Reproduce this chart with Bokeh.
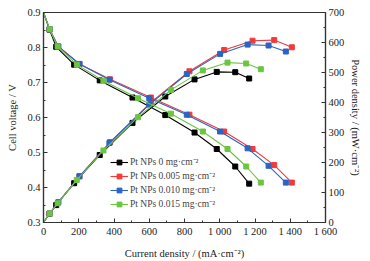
from bokeh.plotting import figure
from bokeh.models import Range1d, LinearAxis, FixedTicker, Legend, LegendItem
from bokeh.embed import file_html
from bokeh.resources import INLINE

# ---- data ----
i_0 = [0, 34, 72, 174, 319, 505, 691, 857, 983, 1088, 1167]
v_0 = [0.9, 0.851, 0.802, 0.751, 0.706, 0.657, 0.607, 0.557, 0.510, 0.460, 0.411]
p_0 = [0, 29, 58, 131, 225, 332, 420, 477, 502, 501, 480]

i_005 = [0, 35, 85, 204, 378, 609, 828, 1025, 1186, 1309, 1409]
v_005 = [0.9, 0.852, 0.803, 0.753, 0.709, 0.657, 0.608, 0.560, 0.510, 0.464, 0.414]
p_005 = [0, 30, 68, 154, 268, 400, 504, 575, 606, 608, 584]

i_010 = [0, 35, 82, 204, 374, 600, 813, 1002, 1158, 1277, 1375]
v_010 = [0.9, 0.852, 0.803, 0.753, 0.708, 0.655, 0.608, 0.560, 0.512, 0.462, 0.414]
p_010 = [0, 30, 66, 154, 265, 393, 495, 562, 593, 590, 570]

i_015 = [0, 35, 80, 189, 340, 536, 723, 904, 1044, 1150, 1233]
v_015 = [0.9, 0.852, 0.803, 0.751, 0.705, 0.655, 0.611, 0.560, 0.510, 0.460, 0.414]
p_015 = [0, 30, 64, 142, 240, 351, 442, 507, 533, 530, 511]

labels = ["Pt NPs 0 mg\u00b7cm\u207b\u00b2", "Pt NPs 0.005 mg\u00b7cm\u207b\u00b2",
          "Pt NPs 0.010 mg\u00b7cm\u207b\u00b2", "Pt NPs 0.015 mg\u00b7cm\u207b\u00b2"]
colors = ["#000000", "#f23a3a", "#2a64c4", "#6cc540"]

x_ticks = [0, 200, 400, 600, 800, 1000, 1200, 1400, 1600]
x_tick_labels = ["0", "200", "400", "600", "800", "1 000", "1 200", "1 400", "1 600"]
v_ticks = [0.3, 0.4, 0.5, 0.6, 0.7, 0.8, 0.9]
v_tick_labels = ["0.3", "0.4", "0.5", "0.6", "0.7", "0.8", "0.9"]
p_ticks = [0, 100, 200, 300, 400, 500, 600, 700]
p_tick_labels = ["0", "100", "200", "300", "400", "500", "600", "700"]

FONT = "Liberation Serif"
AX = "#333333"

p = figure(frame_width=282, frame_height=210, output_backend="svg", toolbar_location=None,
           x_range=Range1d(0, 1600), y_range=Range1d(0.3, 0.9),
           min_border_left=43, min_border_right=44, min_border_top=12, min_border_bottom=38)
p.extra_y_ranges = {"power": Range1d(0, 700)}
p.grid.visible = False
p.outline_line_color = AX
p.outline_line_width = 1.2
p.background_fill_color = "white"
p.border_fill_color = "white"

series = [(i_0, v_0, p_0), (i_005, v_005, p_005), (i_010, v_010, p_010), (i_015, v_015, p_015)]
items = []
for (ii, vv, pp), c, lab in zip(series, colors, labels):
    l1 = p.line(ii, vv, line_color=c, line_width=1.1)
    s1 = p.scatter(ii[1:], vv[1:], marker="square", size=5, fill_color=c, line_color=c)
    p.line(ii, pp, line_color=c, line_width=1.1, y_range_name="power")
    p.scatter(ii[1:], pp[1:], marker="square", size=5, fill_color=c, line_color=c,
              y_range_name="power")
    items.append(LegendItem(label=lab, renderers=[l1, s1]))

legend = Legend(items=items, location=(67, 12), padding=0, margin=0, spacing=1,
                border_line_color=None, background_fill_alpha=0,
                label_text_font=FONT, label_text_font_size="9.5px",
                label_height=12, glyph_height=12, glyph_width=18, label_standoff=2)
p.add_layout(legend, "center")

def style(ax, ticks, lbls, minor, lstand, astand):
    ax.ticker = FixedTicker(ticks=ticks, minor_ticks=minor)
    ax.major_label_overrides = {t: l for t, l in zip(ticks, lbls)}
    ax.major_tick_in = 4
    ax.major_tick_out = 0
    ax.minor_tick_in = 2
    ax.minor_tick_out = 0
    ax.axis_line_color = AX
    ax.major_tick_line_color = AX
    ax.minor_tick_line_color = AX
    ax.axis_line_width = 1.2
    ax.major_label_text_font = FONT
    ax.major_label_text_font_size = "10.5px"
    ax.major_label_text_color = "#222222"
    ax.axis_label_text_font = FONT
    ax.axis_label_text_font_size = "10.5px"
    ax.axis_label_text_font_style = "normal"
    ax.axis_label_text_color = "#222222"
    ax.major_label_standoff = lstand
    ax.axis_label_standoff = astand

xa = p.xaxis[0]
style(xa, x_ticks, x_tick_labels, list(range(0, 1601, 100)), 3, 8)
xa.axis_label = "Current density / (mA\u00b7cm\u207b\u00b2)"

ya = p.yaxis[0]
style(ya, v_ticks, v_tick_labels, [0.3 + 0.05 * k for k in range(13)], 3, 6)
ya.axis_label = "Cell voltage / V"

ra = LinearAxis(y_range_name="power")
style(ra, p_ticks, p_tick_labels, list(range(0, 701, 50)), 3, 3)
ra.axis_label = "Power density / (mW\u00b7cm\u207b\u00b2)"
p.add_layout(ra, "right")

open("out.html", "w").write(file_html(p, INLINE))
